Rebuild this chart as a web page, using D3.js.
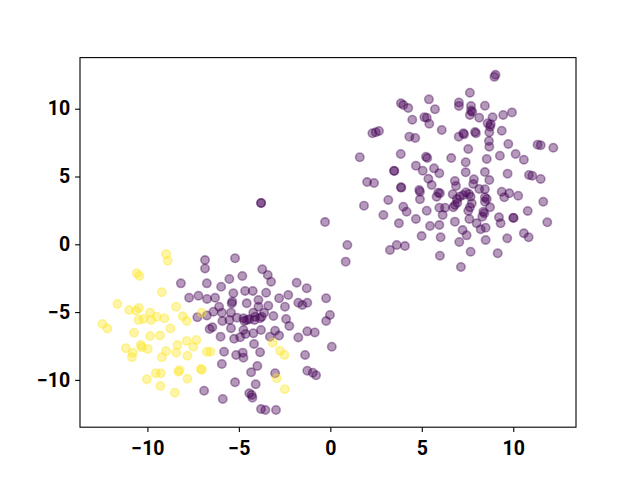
<!DOCTYPE html>
<html><head><meta charset="utf-8">
<script src="https://cdn.jsdelivr.net/npm/d3@7"></script>
<style>body{margin:0;background:#fff}svg{display:block}</style>
</head><body><svg id="c" width="640" height="480"></svg>
<script>
const xTicks = [-10, -5, 0, 5, 10];
const yTicks = [-10, -5, 0, 5, 10];
const xDomain = [-13.685, 13.43];
const yDomain = [-13.49, 13.77];

// class 0 (purple) points [x, y]
const purplePoints = [
[3.86,10.40],[3.99,10.27],[4.26,10.05],[5.39,10.69],[5.72,9.96],[4.48,9.19],[5.14,9.37],[5.27,9.34],[5.41,8.89],[6.09,8.43],
[7.03,10.46],[7.03,10.20],[2.30,8.19],[2.48,8.26],[2.66,8.36],[4.32,7.94],[4.64,7.84],[7.02,7.94],[1.61,6.42],[3.85,6.66],
[5.23,6.46],[5.30,6.36],[6.61,6.36],[3.48,5.43],[3.50,5.40],[4.68,5.80],[5.05,5.43],[5.67,5.60],[5.96,5.24],[5.36,4.83],
[2.01,4.59],[2.39,4.52],[6.81,4.67],[6.87,4.30],[8.97,12.35],[9.03,12.50],[7.63,11.18],[7.69,10.20],[7.69,9.85],[7.76,9.78],
[7.63,9.54],[8.45,10.22],[8.14,9.34],[8.87,9.37],[9.45,9.54],[9.93,9.73],[8.60,8.92],[8.77,8.85],[8.73,8.67],[9.37,8.38],
[7.27,8.19],[7.31,8.11],[7.91,8.28],[7.96,8.19],[8.69,8.26],[8.67,7.62],[8.69,7.20],[9.73,7.40],[11.33,7.35],[11.50,7.30],
[12.19,7.12],[7.54,7.03],[7.40,6.05],[8.55,6.29],[9.27,6.53],[10.13,6.66],[10.58,6.24],[7.40,5.31],[8.45,5.33],[9.69,5.21],
[10.86,5.11],[11.04,5.06],[11.50,4.82],[7.85,4.79],[7.81,4.45],[8.69,4.74],[3.86,4.20],[3.88,4.18],[5.54,4.37],[4.86,4.00],
[4.90,3.88],[5.90,3.81],[5.99,3.76],[5.81,3.51],[6.69,3.69],[6.92,3.34],[7.09,3.53],[4.90,3.32],[3.17,3.27],[1.84,2.85],
[3.99,2.77],[4.17,2.40],[5.27,2.48],[5.96,2.70],[6.27,2.70],[6.81,2.90],[6.14,2.16],[2.90,2.16],[3.75,1.55],[4.68,1.87],
[5.45,1.35],[5.96,1.42],[6.81,1.67],[4.99,0.61],[6.03,0.52],[7.05,0.17],[0.93,-0.05],[3.26,-0.42],[3.63,-0.05],[4.08,-0.13],
[5.99,-0.84],[0.84,-1.28],[7.14,-1.67],[8.14,4.08],[8.45,4.06],[7.27,3.64],[7.42,3.83],[7.58,3.71],[7.67,3.51],[8.45,3.47],
[8.55,3.34],[8.45,3.14],[9.37,3.88],[9.51,3.47],[9.78,3.76],[10.27,3.58],[11.64,3.14],[6.94,3.07],[6.72,2.73],[7.73,3.02],
[7.63,2.73],[7.54,2.48],[8.73,2.73],[8.36,2.40],[8.42,2.29],[7.60,1.87],[8.31,2.04],[9.22,1.99],[9.31,1.55],[10.00,1.96],
[10.02,1.94],[10.79,2.46],[11.86,1.62],[8.00,1.55],[8.22,1.11],[8.49,1.22],[7.23,1.05],[7.45,0.66],[8.49,0.32],[9.67,0.44],
[10.58,0.81],[10.84,0.52],[7.67,-0.55],[9.15,-0.66],[-0.29,1.64],[-3.79,3.05],[-3.78,3.04],
[-6.85,-1.16],[-6.85,-1.78],[-8.17,-2.88],[-6.75,-2.88],[-7.72,-3.94],[-7.21,-3.79],[-6.74,-4.03],[-7.27,-5.38],[-6.75,-5.25],[-6.60,-6.25],
[-6.45,-6.12],[-5.21,-1.03],[-5.97,-3.13],[-5.52,-2.56],[-4.81,-2.34],[-3.72,-1.84],[-3.42,-2.26],[-3.24,-2.76],[-1.84,-2.83],[-1.29,-3.24],
[-6.30,-3.94],[-5.30,-3.61],[-5.36,-4.23],[-5.39,-4.37],[-4.66,-3.44],[-4.24,-3.44],[-3.51,-3.57],[-4.57,-4.35],[-3.93,-4.11],[-3.93,-4.60],
[-3.39,-4.53],[-2.80,-3.98],[-2.30,-3.74],[-2.48,-4.60],[-1.75,-4.31],[-1.53,-4.48],[-1.26,-4.31],[-0.23,-3.98],[-6.08,-4.60],[-5.93,-5.04],
[-6.39,-4.97],[-5.43,-5.04],[-5.11,-5.41],[-5.52,-5.58],[-5.90,-5.66],[-4.75,-5.46],[-4.57,-5.58],[-4.70,-5.66],[-4.43,-5.53],[-4.21,-5.04],
[-4.11,-5.34],[-4.15,-5.58],[-3.84,-5.46],[-3.75,-5.34],[-3.62,-5.04],[-3.11,-5.29],[-2.42,-5.51],[-2.24,-6.03],[-1.26,-6.42],[-0.85,-6.50],
[-0.02,-5.21],[-0.23,-5.66],[-5.43,-6.19],[-4.75,-6.32],[-4.63,-6.61],[-4.93,-6.86],[-4.21,-6.56],[-3.79,-6.32],[-3.30,-6.81],[-3.02,-6.37],
[-2.80,-6.73],[-6.00,-6.81],[-5.26,-6.97],[-1.75,-6.87],[0.08,-7.55],[-5.81,-7.92],[-5.15,-8.16],[-4.79,-7.99],[-4.75,-8.36],[-4.17,-7.35],
[-3.84,-7.96],[-1.38,-8.16],[-5.93,-8.83],[-3.99,-8.97],[-4.33,-9.44],[-3.02,-9.51],[-1.26,-9.32],[-0.96,-9.47],[-0.78,-9.66],[-5.21,-10.18],
[-4.08,-10.32],[-6.90,-10.80],[-4.43,-10.99],[-4.30,-11.11],[-4.26,-11.31],[-5.88,-11.41],[-3.79,-12.15],[-3.55,-12.22],[-2.97,-12.22]
];

// class 1 (yellow) points [x, y]
const yellowPoints = [
[-8.98,-0.72],[-8.89,-1.21],[-10.58,-2.14],[-10.44,-2.34],[-9.21,-3.54],[-11.64,-4.40],[-11.00,-4.85],[-10.62,-4.90],[-10.47,-4.70],[-8.43,-4.60],
[-9.85,-5.04],[-7.03,-5.04],[-8.07,-5.31],[-7.85,-5.66],[-10.22,-5.51],[-9.80,-5.58],[-10.49,-5.58],[-9.49,-5.34],[-9.07,-5.46],[-12.46,-5.88],
[-12.19,-6.21],[-8.74,-6.21],[-10.73,-6.52],[-9.85,-6.76],[-9.31,-6.73],[-7.85,-7.13],[-7.32,-7.06],[-11.18,-7.67],[-10.80,-7.99],[-10.85,-8.33],
[-10.36,-7.43],[-10.31,-7.60],[-9.98,-7.72],[-9.21,-8.33],[-8.98,-7.87],[-8.36,-7.43],[-7.49,-7.55],[-8.43,-7.99],[-7.81,-8.22],[-6.75,-7.92],
[-6.55,-7.92],[-9.54,-9.51],[-9.27,-9.51],[-10.03,-9.96],[-8.31,-9.40],[-8.25,-9.29],[-7.81,-9.91],[-7.08,-9.20],[-7.03,-9.25],[-9.29,-10.45],
[-8.50,-10.94],[-3.15,-7.26],[-2.75,-7.85],[-2.51,-8.16],[-2.93,-9.88],[-2.49,-10.69]
];

const purple = "#440154", yellow = "#fde725";
const m = {l: 80, t: 57.6, r: 576, b: 427.2};
const svg = d3.select("#c");
const x = d3.scaleLinear().domain(xDomain).range([m.l, m.r]);
const y = d3.scaleLinear().domain(yDomain).range([m.b, m.t]);

function drawPoints(data, color) {
  svg.append("g").selectAll("circle").data(data).join("circle")
    .attr("cx", d => x(d[0])).attr("cy", d => y(d[1])).attr("r", 4.2)
    .attr("fill", color).attr("fill-opacity", 0.4)
    .attr("stroke", color).attr("stroke-opacity", 0.4).attr("stroke-width", 1.6);
}
drawPoints(purplePoints, purple);
drawPoints(yellowPoints, yellow);

const fmt = d => d < 0 ? "\u2212" + Math.abs(d) : String(d);
const gx = svg.append("g").attr("transform", `translate(0,${m.b})`)
  .call(d3.axisBottom(x).tickValues(xTicks).tickFormat(fmt).tickSize(4.9).tickPadding(8.6).tickSizeOuter(0));
const gy = svg.append("g").attr("transform", `translate(${m.l},0)`)
  .call(d3.axisLeft(y).tickValues(yTicks).tickFormat(fmt).tickSize(4.9).tickPadding(5).tickSizeOuter(0));
[gx, gy].forEach(g => {
  g.select(".domain").remove();
  g.selectAll(".tick line").attr("stroke", "#000").attr("stroke-width", 1.1);
  g.selectAll("text").attr("font-family", "Roboto, sans-serif").attr("font-weight", "bold")
    .attr("font-size", 19.5).attr("fill", "#000");
});
svg.append("rect").attr("x", m.l).attr("y", m.t).attr("width", m.r - m.l).attr("height", m.b - m.t)
  .attr("fill", "none").attr("stroke", "#000").attr("stroke-width", 1.1);
</script></body></html>
